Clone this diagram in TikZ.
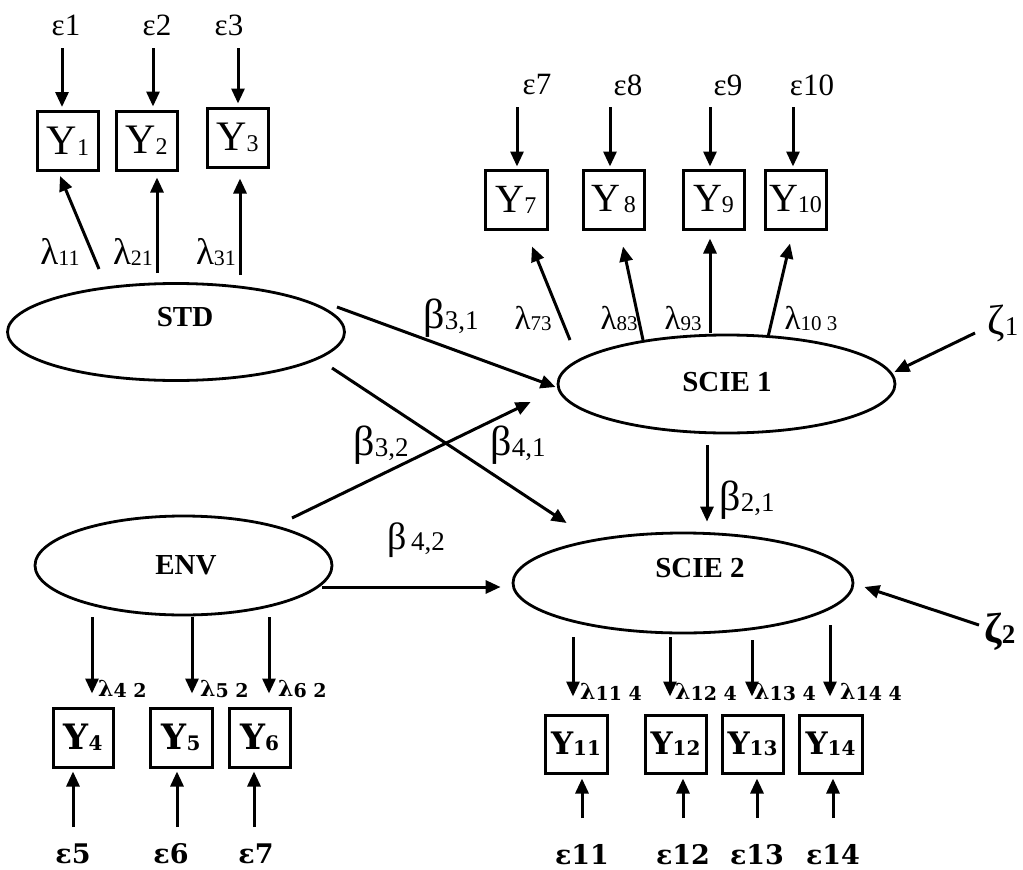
\documentclass[tikz,border=0pt]{standalone}
\usepackage{fontspec}
\setmainfont{Liberation Serif}
\newfontfamily\heavy{DejaVu Serif}[BoldFont={DejaVu Serif Bold}]
\usetikzlibrary{shapes.geometric,arrows.meta}
\newcommand\fs[1]{\fontsize{#1}{#1}\selectfont}
% big letter + small subscript
\newcommand\BS[4]{{\fs{#1}#2}\raisebox{-1pt}{\fs{#3}#4}}
\begin{document}
\begin{tikzpicture}[x=1pt,y=-1pt,
  obs/.style={draw, line width=3pt, minimum width=61pt, minimum height=59pt, inner sep=0pt},
  lat/.style={draw, ellipse, line width=2.8pt, inner sep=0pt},
  arr/.style={line width=3pt, -{Triangle[length=15pt,width=13pt]}},
  txt/.style={inner sep=0pt},
  low/.style={inner sep=0pt, font=\heavy\bfseries},
  lname/.style={inner sep=0pt, font=\bfseries\fs{29}}]
\useasboundingbox[fill=white] (0,0) rectangle (1023,870);

% ---------- latent variables ----------
\node[lat, minimum width=337pt, minimum height=97pt] (std) at (176,332) {};
\node[lname] (stdt) at (185,317) {STD};
\node[lat, minimum width=297pt, minimum height=99pt] (env) at (183.5,565.5) {};
\node[lname] (envt) at (186,565) {ENV};
\node[lat, minimum width=337pt, minimum height=98pt] (scie1) at (726.5,384) {};
\node[lname] (s1t) at (727,382) {SCIE 1};
\node[lat, minimum width=340pt, minimum height=100pt] (scie2) at (683,583) {};
\node[lname] (s2t) at (700,568) {SCIE 2};

% ---------- top-left indicators ----------
\node[obs] (y1) at (68,141) {\BS{42}{Y}{24}{1}};
\node[obs] (y2) at (146.5,140.5) {\BS{42}{Y}{24}{2}};
\node[obs] (y3) at (237.5,137.5) {\BS{42}{Y}{24}{3}};
\node[txt] (e1) at (66,25) {\fs{31}ε1};
\node[txt] (e2) at (157,25) {\fs{31}ε2};
\node[txt] (e3) at (229,25) {\fs{31}ε3};
\coordinate (e1s) at (62,48);
\coordinate (e2s) at (153,48);
\coordinate (e3s) at (238,48);
\draw[arr, shorten >=3pt] (e1s) -- (e1s |- y1.north);
\draw[arr, shorten >=3pt] (e2s) -- (e2s |- y2.north);
\draw[arr, shorten >=3pt] (e3s) -- (e3s |- y3.north);
\coordinate (l1s) at (99,269);
\coordinate (l2s) at (157,273);
\coordinate (l3s) at (240,275);
\draw[arr] (l1s) -- ([xshift=-8pt,yshift=-4pt]y1.south);
\draw[arr] (l2s) -- ([xshift=10.5pt,yshift=-6pt]y2.south);
\draw[arr] (l3s) -- ([xshift=2.5pt,yshift=-10pt]y3.south);
\node[txt] (l11) at (60,252) {\BS{37}{λ}{22}{11}};
\node[txt] (l21) at (133,252) {\BS{37}{λ}{22}{21}};
\node[txt] (l31) at (216,252) {\BS{37}{λ}{22}{31}};

% ---------- top-right indicators ----------
\node[obs, minimum width=62pt] (y7) at (516,199.5) {\BS{40}{Y}{24}{7}};
\node[obs] (y8) at (613.5,199.5) {\BS{40}{Y}{24}{\,8}};
\node[obs] (y9) at (713.5,199.5) {\BS{40}{Y}{24}{9}};
\node[obs] (y10) at (795.5,199.5) {\BS{40}{Y}{24}{10}};
\node[txt] (e7) at (537,85) {\fs{31}ε7};
\node[txt] (e8) at (628,85) {\fs{31}ε8};
\node[txt] (e9) at (728,85) {\fs{31}ε9};
\node[txt] (e10) at (812,85) {\fs{31}ε10};
\coordinate (e7s) at (517,107);
\coordinate (e8s) at (610,107);
\coordinate (e9s) at (710,107);
\coordinate (e10s) at (793,107);
\draw[arr, shorten >=2pt] (e7s) -- (e7s |- y7.north);
\draw[arr, shorten >=2pt] (e8s) -- (e8s |- y8.north);
\draw[arr, shorten >=2pt] (e9s) -- (e9s |- y9.north);
\draw[arr, shorten >=2pt] (e10s) -- (e10s |- y10.north);
\coordinate (l7s) at (570,340);
\coordinate (l8s) at (643,340);
\coordinate (l9s) at (710,333);
\coordinate (l10s) at (768,337);
\draw[arr] (l7s) -- ([xshift=16pt,yshift=-16pt]y7.south);
\draw[arr] (l8s) -- ([xshift=9.5pt,yshift=-16pt]y8.south);
\draw[arr] (l9s) -- ([xshift=-3.5pt,yshift=-8pt]y9.south);
\draw[arr] (l10s) -- ([xshift=-5.5pt,yshift=-13pt]y10.south);
\node[txt] (l73) at (533,318) {\BS{33}{λ}{21}{73}};
\node[txt] (l83) at (619,318) {\BS{33}{λ}{21}{83}};
\node[txt] (l93) at (683,318) {\BS{33}{λ}{21}{93}};
\node[txt] (l103) at (811,318) {\BS{33}{λ}{21}{10 3}};

% ---------- zeta ----------
\node[txt] (z1) at (1003,323) {\BS{42}{ζ}{27}{1}};
\node[txt] (z2) at (1000,632) {\bfseries\BS{42}{ζ}{27}{2}};
\coordinate (z1s) at (975,333);
\coordinate (z2s) at (979,625);
\draw[arr] (z1s) -- ([xshift=-2pt,yshift=12pt]scie1.east);
\draw[arr] (z2s) -- ([xshift=10pt,yshift=-4pt]scie2.east);

% ---------- structural paths ----------
\coordinate (b31s) at (337,307);
\coordinate (b41s) at (332,368);
\coordinate (b32s) at (292,518);
\coordinate (b42s) at (322,587);
\coordinate (b21s) at (707,445);
\draw[arr] (b31s) -- ([xshift=-1pt,yshift=-3pt]scie1.west);
\draw[arr] (b32s) -- ([xshift=-26pt,yshift=-18pt]scie1.west);
\draw[arr] (b41s) -- ([xshift=55pt,yshift=60pt]scie2.west);
\draw[arr] (b42s) -- ([xshift=-11pt,yshift=-4pt]scie2.west);
\draw[arr, shorten >=10pt] (b21s) -- (b21s |- scie2.north);
\node[txt] (b31) at (451,318) {\BS{42}{β}{27}{3,1}};
\node[txt] (b32) at (381,445) {\BS{42}{β}{27}{3,2}};
\node[txt] (b41) at (518,445) {\BS{42}{β}{27}{4,1}};
\node[txt] (b42) at (416,540) {\BS{38}{β}{27}{\,4,2}};
\node[txt] (b21) at (747,500) {\BS{42}{β}{27}{2,1}};

% ---------- bottom-left indicators ----------
\node[obs, minimum width=60pt] (y4) at (83,737.5) {\heavy\bfseries\BS{35}{Y}{20}{4}};
\node[obs, minimum width=62pt] (y5) at (181,737.5) {\heavy\bfseries\BS{35}{Y}{20}{5}};
\node[obs] (y6) at (259.5,737.5) {\heavy\bfseries\BS{35}{Y}{20}{6}};
\coordinate (d4s) at (92,617);
\coordinate (d5s) at (192,617);
\coordinate (d6s) at (269,617);
\draw[arr, shorten >=13pt] (d4s) -- (d4s |- y4.north);
\draw[arr, shorten >=13pt] (d5s) -- (d5s |- y5.north);
\draw[arr, shorten >=13pt] (d6s) -- (d6s |- y6.north);
\node[low, anchor=west] (l42) at (98,689) {\BS{22}{λ}{19}{4 2}};
\node[low, anchor=west] (l52) at (200,689) {\BS{22}{λ}{19}{5 2}};
\node[low, anchor=west] (l62) at (278,689) {\BS{22}{λ}{19}{6 2}};
\node[low] (e5) at (73,854) {\fs{27}ε5};
\node[low] (e6) at (171,854) {\fs{27}ε6};
\node[low] (e7b) at (256,854) {\fs{27}ε7};
\coordinate (u5s) at (73,827);
\coordinate (u6s) at (177,827);
\coordinate (u7s) at (254,827);
\draw[arr, shorten >=3pt] (u5s) -- (u5s |- y4.south);
\draw[arr, shorten >=3pt] (u6s) -- (u6s |- y5.south);
\draw[arr, shorten >=3pt] (u7s) -- (u7s |- y6.south);

% ---------- bottom-right indicators ----------
\node[obs, minimum width=62pt, minimum height=58pt] (y11) at (576,744) {\heavy\bfseries\BS{31}{Y}{20}{11}};
\node[obs, minimum height=58pt] (y12) at (675.5,744) {\heavy\bfseries\BS{31}{Y}{20}{12}};
\node[obs, minimum height=58pt] (y13) at (752.5,744) {\heavy\bfseries\BS{31}{Y}{20}{13}};
\node[obs, minimum width=63pt, minimum height=58pt] (y14) at (830.5,744) {\heavy\bfseries\BS{31}{Y}{20}{14}};
\coordinate (d11s) at (573,637);
\coordinate (d12s) at (670,637);
\coordinate (d13s) at (752,640);
\coordinate (d14s) at (830,625);
\draw[arr, shorten >=17pt] (d11s) -- (d11s |- y11.north);
\draw[arr, shorten >=17pt] (d12s) -- (d12s |- y12.north);
\draw[arr, shorten >=17pt] (d13s) -- (d13s |- y13.north);
\draw[arr, shorten >=17pt] (d14s) -- (d14s |- y14.north);
\node[low, anchor=west] (l114) at (580,692) {\BS{22}{λ}{19}{11 4}};
\node[low, anchor=west] (l124) at (675,692) {\BS{22}{λ}{19}{12 4}};
\node[low, anchor=west] (l134) at (754,692) {\BS{22}{λ}{19}{13 4}};
\node[low, anchor=west] (l144) at (840,692) {\BS{22}{λ}{19}{14 4}};
\node[low] (e11) at (582,855) {\fs{27}ε11};
\node[low] (e12) at (683,855) {\fs{27}ε12};
\node[low] (e13) at (757,855) {\fs{27}ε13};
\node[low] (e14) at (833,855) {\fs{27}ε14};
\coordinate (u11s) at (582,818);
\coordinate (u12s) at (683,818);
\coordinate (u13s) at (757,818);
\coordinate (u14s) at (833,818);
\draw[arr, shorten >=4pt] (u11s) -- (u11s |- y11.south);
\draw[arr, shorten >=4pt] (u12s) -- (u12s |- y12.south);
\draw[arr, shorten >=4pt] (u13s) -- (u13s |- y13.south);
\draw[arr, shorten >=4pt] (u14s) -- (u14s |- y14.south);
\end{tikzpicture}
\end{document}
